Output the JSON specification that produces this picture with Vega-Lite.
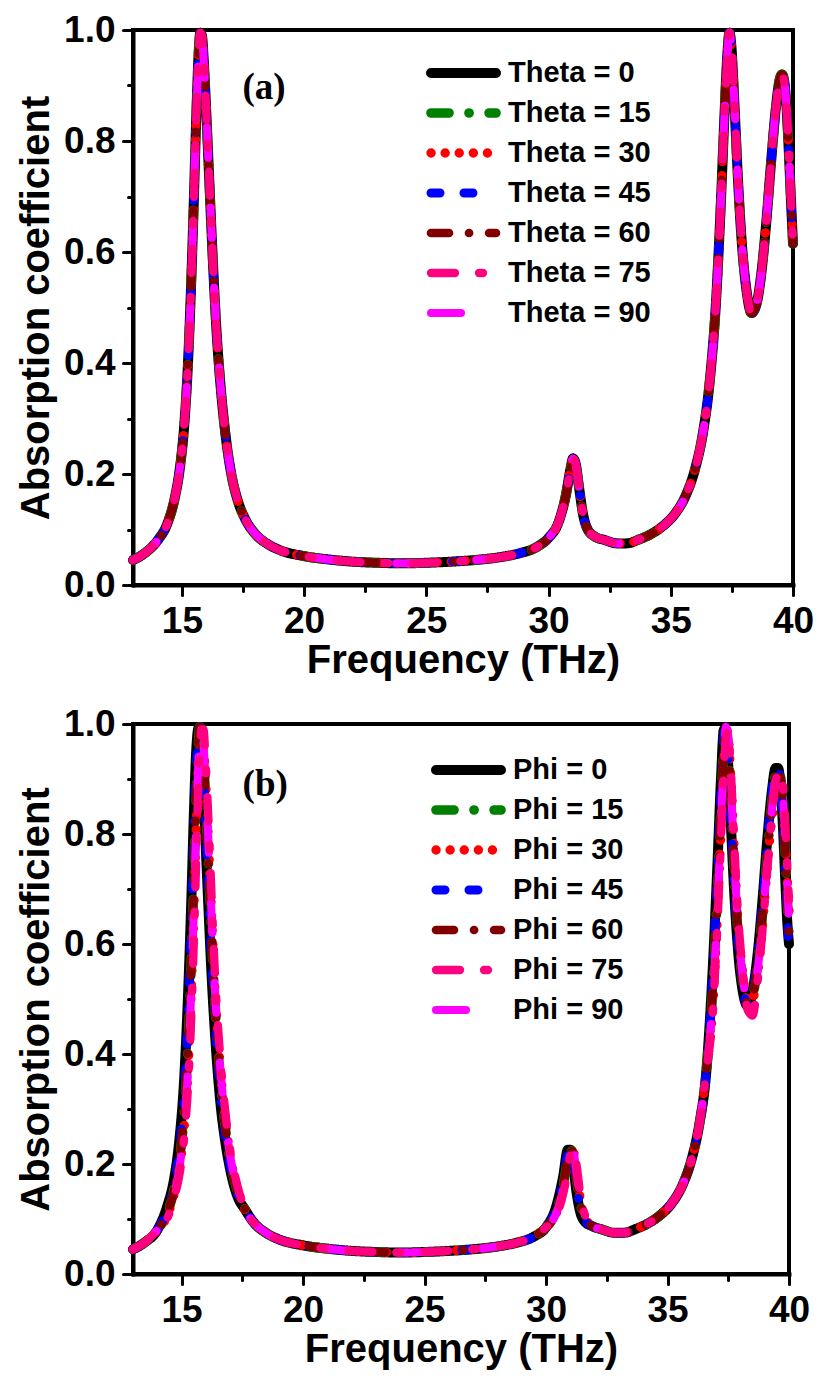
{
 "$schema": "https://vega.github.io/schema/vega-lite/v6.json",
 "background": "white",
 "padding": {"left": 14, "top": 9, "right": 0, "bottom": 0},
 "spacing": 21,
 "datasets": {
  "pa": [
   {"f":13,"s0":0.045,"s15":0.045,"s30":0.045,"s45":0.045,"s60":0.045,"s75":0.045,"s90":0.045},
   {"f":13.5,"s0":0.058,"s15":0.058,"s30":0.058,"s45":0.058,"s60":0.058,"s75":0.058,"s90":0.058},
   {"f":14,"s0":0.08,"s15":0.08,"s30":0.08,"s45":0.08,"s60":0.08,"s75":0.08,"s90":0.08},
   {"f":14.4,"s0":0.11,"s15":0.11,"s30":0.11,"s45":0.11,"s60":0.11,"s75":0.11,"s90":0.11},
   {"f":14.7,"s0":0.155,"s15":0.155,"s30":0.155,"s45":0.155,"s60":0.155,"s75":0.155,"s90":0.155},
   {"f":14.9,"s0":0.205,"s15":0.205,"s30":0.205,"s45":0.205,"s60":0.205,"s75":0.205,"s90":0.205},
   {"f":15.1,"s0":0.29,"s15":0.29,"s30":0.29,"s45":0.29,"s60":0.29,"s75":0.29,"s90":0.29},
   {"f":15.25,"s0":0.4,"s15":0.4,"s30":0.4,"s45":0.4,"s60":0.4,"s75":0.4,"s90":0.4},
   {"f":15.4,"s0":0.57,"s15":0.57,"s30":0.57,"s45":0.57,"s60":0.57,"s75":0.57,"s90":0.57},
   {"f":15.5,"s0":0.71,"s15":0.71,"s30":0.71,"s45":0.71,"s60":0.71,"s75":0.71,"s90":0.71},
   {"f":15.6,"s0":0.86,"s15":0.86,"s30":0.86,"s45":0.86,"s60":0.86,"s75":0.86,"s90":0.86},
   {"f":15.7,"s0":0.97,"s15":0.97,"s30":0.97,"s45":0.97,"s60":0.97,"s75":0.97,"s90":0.97},
   {"f":15.75,"s0":0.995,"s15":0.995,"s30":0.995,"s45":0.995,"s60":0.995,"s75":0.995,"s90":0.995},
   {"f":15.82,"s0":0.99,"s15":0.99,"s30":0.99,"s45":0.99,"s60":0.99,"s75":0.99,"s90":0.99},
   {"f":15.9,"s0":0.94,"s15":0.94,"s30":0.94,"s45":0.94,"s60":0.94,"s75":0.94,"s90":0.94},
   {"f":16,"s0":0.85,"s15":0.85,"s30":0.85,"s45":0.85,"s60":0.85,"s75":0.85,"s90":0.85},
   {"f":16.1,"s0":0.75,"s15":0.75,"s30":0.75,"s45":0.75,"s60":0.75,"s75":0.75,"s90":0.75},
   {"f":16.25,"s0":0.6,"s15":0.6,"s30":0.6,"s45":0.6,"s60":0.6,"s75":0.6,"s90":0.6},
   {"f":16.4,"s0":0.47,"s15":0.47,"s30":0.47,"s45":0.47,"s60":0.47,"s75":0.47,"s90":0.47},
   {"f":16.6,"s0":0.35,"s15":0.35,"s30":0.35,"s45":0.35,"s60":0.35,"s75":0.35,"s90":0.35},
   {"f":16.8,"s0":0.265,"s15":0.265,"s30":0.265,"s45":0.265,"s60":0.265,"s75":0.265,"s90":0.265},
   {"f":17,"s0":0.205,"s15":0.205,"s30":0.205,"s45":0.205,"s60":0.205,"s75":0.205,"s90":0.205},
   {"f":17.3,"s0":0.15,"s15":0.15,"s30":0.15,"s45":0.15,"s60":0.15,"s75":0.15,"s90":0.15},
   {"f":17.6,"s0":0.118,"s15":0.118,"s30":0.118,"s45":0.118,"s60":0.118,"s75":0.118,"s90":0.118},
   {"f":18,"s0":0.092,"s15":0.092,"s30":0.092,"s45":0.092,"s60":0.092,"s75":0.092,"s90":0.092},
   {"f":18.5,"s0":0.074,"s15":0.074,"s30":0.074,"s45":0.074,"s60":0.074,"s75":0.074,"s90":0.074},
   {"f":19,"s0":0.063,"s15":0.063,"s30":0.063,"s45":0.063,"s60":0.063,"s75":0.063,"s90":0.063},
   {"f":20,"s0":0.052,"s15":0.052,"s30":0.052,"s45":0.052,"s60":0.052,"s75":0.052,"s90":0.052},
   {"f":21,"s0":0.046,"s15":0.046,"s30":0.046,"s45":0.046,"s60":0.046,"s75":0.046,"s90":0.046},
   {"f":22,"s0":0.042,"s15":0.042,"s30":0.042,"s45":0.042,"s60":0.042,"s75":0.042,"s90":0.042},
   {"f":23,"s0":0.04,"s15":0.04,"s30":0.04,"s45":0.04,"s60":0.04,"s75":0.04,"s90":0.04},
   {"f":24,"s0":0.039,"s15":0.039,"s30":0.039,"s45":0.039,"s60":0.039,"s75":0.039,"s90":0.039},
   {"f":25,"s0":0.04,"s15":0.04,"s30":0.04,"s45":0.04,"s60":0.04,"s75":0.04,"s90":0.04},
   {"f":26,"s0":0.042,"s15":0.042,"s30":0.042,"s45":0.042,"s60":0.042,"s75":0.042,"s90":0.042},
   {"f":27,"s0":0.045,"s15":0.045,"s30":0.045,"s45":0.045,"s60":0.045,"s75":0.045,"s90":0.045},
   {"f":28,"s0":0.05,"s15":0.05,"s30":0.05,"s45":0.05,"s60":0.05,"s75":0.05,"s90":0.05},
   {"f":28.8,"s0":0.057,"s15":0.057,"s30":0.057,"s45":0.057,"s60":0.057,"s75":0.057,"s90":0.057},
   {"f":29.5,"s0":0.068,"s15":0.068,"s30":0.068,"s45":0.068,"s60":0.068,"s75":0.068,"s90":0.068},
   {"f":30,"s0":0.085,"s15":0.085,"s30":0.085,"s45":0.085,"s60":0.085,"s75":0.085,"s90":0.085},
   {"f":30.4,"s0":0.112,"s15":0.112,"s30":0.112,"s45":0.112,"s60":0.112,"s75":0.112,"s90":0.112},
   {"f":30.7,"s0":0.16,"s15":0.16,"s30":0.16,"s45":0.16,"s60":0.16,"s75":0.16,"s90":0.16},
   {"f":30.9,"s0":0.21,"s15":0.21,"s30":0.21,"s45":0.21,"s60":0.21,"s75":0.21,"s90":0.21},
   {"f":31,"s0":0.228,"s15":0.228,"s30":0.228,"s45":0.228,"s60":0.228,"s75":0.228,"s90":0.228},
   {"f":31.1,"s0":0.22,"s15":0.22,"s30":0.22,"s45":0.22,"s60":0.22,"s75":0.22,"s90":0.22},
   {"f":31.25,"s0":0.175,"s15":0.175,"s30":0.175,"s45":0.175,"s60":0.175,"s75":0.175,"s90":0.175},
   {"f":31.4,"s0":0.13,"s15":0.13,"s30":0.13,"s45":0.13,"s60":0.13,"s75":0.13,"s90":0.13},
   {"f":31.6,"s0":0.1,"s15":0.1,"s30":0.1,"s45":0.1,"s60":0.1,"s75":0.1,"s90":0.1},
   {"f":31.9,"s0":0.087,"s15":0.087,"s30":0.087,"s45":0.087,"s60":0.087,"s75":0.087,"s90":0.087},
   {"f":32.3,"s0":0.081,"s15":0.081,"s30":0.081,"s45":0.081,"s60":0.081,"s75":0.081,"s90":0.081},
   {"f":32.8,"s0":0.075,"s15":0.075,"s30":0.075,"s45":0.075,"s60":0.075,"s75":0.075,"s90":0.075},
   {"f":33.2,"s0":0.075,"s15":0.075,"s30":0.075,"s45":0.075,"s60":0.075,"s75":0.075,"s90":0.075},
   {"f":33.7,"s0":0.082,"s15":0.082,"s30":0.082,"s45":0.082,"s60":0.082,"s75":0.082,"s90":0.082},
   {"f":34.2,"s0":0.092,"s15":0.092,"s30":0.092,"s45":0.092,"s60":0.092,"s75":0.092,"s90":0.092},
   {"f":34.7,"s0":0.107,"s15":0.107,"s30":0.107,"s45":0.107,"s60":0.107,"s75":0.107,"s90":0.107},
   {"f":35.2,"s0":0.13,"s15":0.13,"s30":0.13,"s45":0.13,"s60":0.13,"s75":0.13,"s90":0.13},
   {"f":35.6,"s0":0.16,"s15":0.16,"s30":0.16,"s45":0.16,"s60":0.16,"s75":0.16,"s90":0.16},
   {"f":36,"s0":0.21,"s15":0.21,"s30":0.21,"s45":0.21,"s60":0.21,"s75":0.21,"s90":0.21},
   {"f":36.3,"s0":0.27,"s15":0.27,"s30":0.27,"s45":0.27,"s60":0.27,"s75":0.27,"s90":0.27},
   {"f":36.6,"s0":0.37,"s15":0.37,"s30":0.37,"s45":0.37,"s60":0.37,"s75":0.37,"s90":0.37},
   {"f":36.85,"s0":0.51,"s15":0.51,"s30":0.51,"s45":0.51,"s60":0.51,"s75":0.51,"s90":0.51},
   {"f":37.05,"s0":0.69,"s15":0.69,"s30":0.69,"s45":0.69,"s60":0.69,"s75":0.69,"s90":0.69},
   {"f":37.2,"s0":0.85,"s15":0.85,"s30":0.85,"s45":0.85,"s60":0.85,"s75":0.85,"s90":0.85},
   {"f":37.32,"s0":0.96,"s15":0.96,"s30":0.96,"s45":0.96,"s60":0.96,"s75":0.96,"s90":0.96},
   {"f":37.4,"s0":0.995,"s15":0.995,"s30":0.995,"s45":0.995,"s60":0.995,"s75":0.995,"s90":0.995},
   {"f":37.48,"s0":0.97,"s15":0.97,"s30":0.97,"s45":0.97,"s60":0.97,"s75":0.97,"s90":0.97},
   {"f":37.6,"s0":0.87,"s15":0.87,"s30":0.87,"s45":0.87,"s60":0.87,"s75":0.87,"s90":0.87},
   {"f":37.75,"s0":0.73,"s15":0.73,"s30":0.73,"s45":0.73,"s60":0.73,"s75":0.73,"s90":0.73},
   {"f":37.9,"s0":0.62,"s15":0.62,"s30":0.62,"s45":0.62,"s60":0.62,"s75":0.62,"s90":0.62},
   {"f":38.1,"s0":0.53,"s15":0.53,"s30":0.53,"s45":0.53,"s60":0.53,"s75":0.53,"s90":0.53},
   {"f":38.3,"s0":0.49,"s15":0.49,"s30":0.49,"s45":0.49,"s60":0.49,"s75":0.49,"s90":0.49},
   {"f":38.5,"s0":0.505,"s15":0.505,"s30":0.505,"s45":0.505,"s60":0.505,"s75":0.505,"s90":0.505},
   {"f":38.7,"s0":0.56,"s15":0.56,"s30":0.56,"s45":0.56,"s60":0.56,"s75":0.56,"s90":0.56},
   {"f":38.9,"s0":0.65,"s15":0.65,"s30":0.65,"s45":0.65,"s60":0.65,"s75":0.65,"s90":0.65},
   {"f":39.1,"s0":0.76,"s15":0.76,"s30":0.76,"s45":0.76,"s60":0.76,"s75":0.76,"s90":0.76},
   {"f":39.3,"s0":0.86,"s15":0.86,"s30":0.86,"s45":0.86,"s60":0.86,"s75":0.86,"s90":0.86},
   {"f":39.45,"s0":0.91,"s15":0.91,"s30":0.91,"s45":0.91,"s60":0.91,"s75":0.91,"s90":0.91},
   {"f":39.55,"s0":0.92,"s15":0.92,"s30":0.92,"s45":0.92,"s60":0.92,"s75":0.92,"s90":0.92},
   {"f":39.65,"s0":0.905,"s15":0.905,"s30":0.905,"s45":0.905,"s60":0.905,"s75":0.905,"s90":0.905},
   {"f":39.75,"s0":0.85,"s15":0.85,"s30":0.85,"s45":0.85,"s60":0.85,"s75":0.85,"s90":0.85},
   {"f":39.85,"s0":0.76,"s15":0.76,"s30":0.76,"s45":0.76,"s60":0.76,"s75":0.76,"s90":0.76},
   {"f":39.93,"s0":0.68,"s15":0.68,"s30":0.68,"s45":0.68,"s60":0.68,"s75":0.68,"s90":0.68},
   {"f":40,"s0":0.615,"s15":0.615,"s30":0.615,"s45":0.615,"s60":0.615,"s75":0.615,"s90":0.615}
  ],
  "pb": [
   {"f":13,"s0":0.045,"s15":0.045,"s30":0.045,"s45":0.045,"s60":0.045,"s75":0.045,"s90":0.045},
   {"f":13.5,"s0":0.058,"s15":0.058,"s30":0.058,"s45":0.058,"s60":0.058,"s75":0.058,"s90":0.058},
   {"f":14,"s0":0.08,"s15":0.08,"s30":0.08,"s45":0.08,"s60":0.08,"s75":0.08,"s90":0.08},
   {"f":14.4,"s0":0.122,"s15":0.11,"s30":0.105,"s45":0.116,"s60":0.11,"s75":0.1,"s90":0.105},
   {"f":14.7,"s0":0.175,"s15":0.155,"s30":0.147,"s45":0.165,"s60":0.155,"s75":0.14,"s90":0.147},
   {"f":14.9,"s0":0.24,"s15":0.205,"s30":0.19,"s45":0.222,"s60":0.205,"s75":0.178,"s90":0.19},
   {"f":15.1,"s0":0.35,"s15":0.29,"s30":0.265,"s45":0.32,"s60":0.29,"s75":0.245,"s90":0.265},
   {"f":15.25,"s0":0.49,"s15":0.4,"s30":0.36,"s45":0.445,"s60":0.4,"s75":0.33,"s90":0.36},
   {"f":15.4,"s0":0.68,"s15":0.57,"s30":0.52,"s45":0.625,"s60":0.57,"s75":0.47,"s90":0.52},
   {"f":15.5,"s0":0.83,"s15":0.71,"s30":0.655,"s45":0.77,"s60":0.71,"s75":0.6,"s90":0.655},
   {"f":15.6,"s0":0.95,"s15":0.86,"s30":0.81,"s45":0.91,"s60":0.86,"s75":0.75,"s90":0.81},
   {"f":15.7,"s0":0.993,"s15":0.97,"s30":0.94,"s45":0.985,"s60":0.97,"s75":0.9,"s90":0.94},
   {"f":15.75,"s0":0.985,"s15":0.995,"s30":0.975,"s45":0.995,"s60":0.995,"s75":0.95,"s90":0.975},
   {"f":15.82,"s0":0.94,"s15":0.99,"s30":0.998,"s45":0.97,"s60":0.99,"s75":0.99,"s90":0.998},
   {"f":15.9,"s0":0.87,"s15":0.94,"s30":0.965,"s45":0.905,"s60":0.94,"s75":0.99,"s90":0.965},
   {"f":16,"s0":0.77,"s15":0.85,"s30":0.885,"s45":0.81,"s60":0.85,"s75":0.92,"s90":0.885},
   {"f":16.1,"s0":0.67,"s15":0.75,"s30":0.79,"s45":0.71,"s60":0.75,"s75":0.83,"s90":0.79},
   {"f":16.25,"s0":0.53,"s15":0.6,"s30":0.635,"s45":0.565,"s60":0.6,"s75":0.67,"s90":0.635},
   {"f":16.4,"s0":0.42,"s15":0.47,"s30":0.495,"s45":0.445,"s60":0.47,"s75":0.52,"s90":0.495},
   {"f":16.6,"s0":0.31,"s15":0.35,"s30":0.37,"s45":0.33,"s60":0.35,"s75":0.39,"s90":0.37},
   {"f":16.8,"s0":0.24,"s15":0.265,"s30":0.28,"s45":0.25,"s60":0.265,"s75":0.295,"s90":0.28},
   {"f":17,"s0":0.19,"s15":0.205,"s30":0.215,"s45":0.197,"s60":0.205,"s75":0.225,"s90":0.215},
   {"f":17.3,"s0":0.141,"s15":0.15,"s30":0.155,"s45":0.145,"s60":0.15,"s75":0.16,"s90":0.155},
   {"f":17.6,"s0":0.118,"s15":0.118,"s30":0.118,"s45":0.118,"s60":0.118,"s75":0.118,"s90":0.118},
   {"f":18,"s0":0.092,"s15":0.092,"s30":0.092,"s45":0.092,"s60":0.092,"s75":0.092,"s90":0.092},
   {"f":18.5,"s0":0.074,"s15":0.074,"s30":0.074,"s45":0.074,"s60":0.074,"s75":0.074,"s90":0.074},
   {"f":19,"s0":0.063,"s15":0.063,"s30":0.063,"s45":0.063,"s60":0.063,"s75":0.063,"s90":0.063},
   {"f":20,"s0":0.052,"s15":0.052,"s30":0.052,"s45":0.052,"s60":0.052,"s75":0.052,"s90":0.052},
   {"f":21,"s0":0.046,"s15":0.046,"s30":0.046,"s45":0.046,"s60":0.046,"s75":0.046,"s90":0.046},
   {"f":22,"s0":0.042,"s15":0.042,"s30":0.042,"s45":0.042,"s60":0.042,"s75":0.042,"s90":0.042},
   {"f":23,"s0":0.04,"s15":0.04,"s30":0.04,"s45":0.04,"s60":0.04,"s75":0.04,"s90":0.04},
   {"f":24,"s0":0.039,"s15":0.039,"s30":0.039,"s45":0.039,"s60":0.039,"s75":0.039,"s90":0.039},
   {"f":25,"s0":0.04,"s15":0.04,"s30":0.04,"s45":0.04,"s60":0.04,"s75":0.04,"s90":0.04},
   {"f":26,"s0":0.042,"s15":0.042,"s30":0.042,"s45":0.042,"s60":0.042,"s75":0.042,"s90":0.042},
   {"f":27,"s0":0.045,"s15":0.045,"s30":0.045,"s45":0.045,"s60":0.045,"s75":0.045,"s90":0.045},
   {"f":28,"s0":0.05,"s15":0.05,"s30":0.05,"s45":0.05,"s60":0.05,"s75":0.05,"s90":0.05},
   {"f":28.8,"s0":0.057,"s15":0.057,"s30":0.057,"s45":0.057,"s60":0.057,"s75":0.057,"s90":0.057},
   {"f":29.5,"s0":0.068,"s15":0.068,"s30":0.068,"s45":0.068,"s60":0.068,"s75":0.068,"s90":0.068},
   {"f":30,"s0":0.085,"s15":0.085,"s30":0.085,"s45":0.085,"s60":0.085,"s75":0.085,"s90":0.085},
   {"f":30.4,"s0":0.12,"s15":0.112,"s30":0.108,"s45":0.116,"s60":0.112,"s75":0.104,"s90":0.108},
   {"f":30.7,"s0":0.176,"s15":0.16,"s30":0.152,"s45":0.168,"s60":0.16,"s75":0.145,"s90":0.152},
   {"f":30.9,"s0":0.226,"s15":0.21,"s30":0.2,"s45":0.219,"s60":0.21,"s75":0.19,"s90":0.2},
   {"f":31,"s0":0.226,"s15":0.228,"s30":0.225,"s45":0.228,"s60":0.228,"s75":0.218,"s90":0.225},
   {"f":31.1,"s0":0.205,"s15":0.22,"s30":0.226,"s45":0.212,"s60":0.22,"s75":0.228,"s90":0.226},
   {"f":31.25,"s0":0.15,"s15":0.175,"s30":0.187,"s45":0.163,"s60":0.175,"s75":0.2,"s90":0.187},
   {"f":31.4,"s0":0.114,"s15":0.13,"s30":0.138,"s45":0.122,"s60":0.13,"s75":0.147,"s90":0.138},
   {"f":31.6,"s0":0.095,"s15":0.1,"s30":0.103,"s45":0.097,"s60":0.1,"s75":0.107,"s90":0.103},
   {"f":31.9,"s0":0.087,"s15":0.087,"s30":0.087,"s45":0.087,"s60":0.087,"s75":0.087,"s90":0.087},
   {"f":32.3,"s0":0.081,"s15":0.081,"s30":0.081,"s45":0.081,"s60":0.081,"s75":0.081,"s90":0.081},
   {"f":32.8,"s0":0.075,"s15":0.075,"s30":0.075,"s45":0.075,"s60":0.075,"s75":0.075,"s90":0.075},
   {"f":33.2,"s0":0.075,"s15":0.075,"s30":0.075,"s45":0.075,"s60":0.075,"s75":0.075,"s90":0.075},
   {"f":33.7,"s0":0.082,"s15":0.082,"s30":0.082,"s45":0.082,"s60":0.082,"s75":0.082,"s90":0.082},
   {"f":34.2,"s0":0.092,"s15":0.092,"s30":0.092,"s45":0.092,"s60":0.092,"s75":0.092,"s90":0.092},
   {"f":34.7,"s0":0.107,"s15":0.107,"s30":0.107,"s45":0.107,"s60":0.107,"s75":0.107,"s90":0.107},
   {"f":35.2,"s0":0.13,"s15":0.13,"s30":0.13,"s45":0.13,"s60":0.13,"s75":0.13,"s90":0.13},
   {"f":35.6,"s0":0.16,"s15":0.16,"s30":0.16,"s45":0.16,"s60":0.16,"s75":0.16,"s90":0.16},
   {"f":36,"s0":0.21,"s15":0.21,"s30":0.21,"s45":0.21,"s60":0.21,"s75":0.21,"s90":0.21},
   {"f":36.3,"s0":0.27,"s15":0.27,"s30":0.27,"s45":0.27,"s60":0.27,"s75":0.27,"s90":0.27},
   {"f":36.6,"s0":0.37,"s15":0.37,"s30":0.37,"s45":0.37,"s60":0.37,"s75":0.37,"s90":0.37},
   {"f":36.85,"s0":0.546,"s15":0.51,"s30":0.48,"s45":0.53,"s60":0.51,"s75":0.467,"s90":0.49},
   {"f":37.05,"s0":0.74,"s15":0.69,"s30":0.65,"s45":0.72,"s60":0.69,"s75":0.632,"s90":0.66},
   {"f":37.2,"s0":0.9,"s15":0.85,"s30":0.81,"s45":0.88,"s60":0.85,"s75":0.79,"s90":0.82},
   {"f":37.32,"s0":0.99,"s15":0.96,"s30":0.93,"s45":0.98,"s60":0.96,"s75":0.916,"s90":0.94},
   {"f":37.4,"s0":0.99,"s15":0.995,"s30":0.99,"s45":0.99,"s60":0.995,"s75":0.975,"s90":0.995},
   {"f":37.48,"s0":0.94,"s15":0.97,"s30":0.985,"s45":0.95,"s60":0.97,"s75":0.99,"s90":0.985},
   {"f":37.6,"s0":0.825,"s15":0.87,"s30":0.905,"s45":0.845,"s60":0.87,"s75":0.92,"s90":0.895},
   {"f":37.75,"s0":0.69,"s15":0.73,"s30":0.765,"s45":0.705,"s60":0.73,"s75":0.78,"s90":0.755},
   {"f":37.9,"s0":0.59,"s15":0.62,"s30":0.64,"s45":0.605,"s60":0.62,"s75":0.654,"s90":0.635},
   {"f":38.1,"s0":0.513,"s15":0.53,"s30":0.545,"s45":0.52,"s60":0.53,"s75":0.55,"s90":0.54},
   {"f":38.3,"s0":0.487,"s15":0.49,"s30":0.495,"s45":0.488,"s60":0.49,"s75":0.48,"s90":0.492},
   {"f":38.5,"s0":0.514,"s15":0.505,"s30":0.5,"s45":0.51,"s60":0.505,"s75":0.47,"s90":0.5},
   {"f":38.7,"s0":0.578,"s15":0.56,"s30":0.545,"s45":0.57,"s60":0.56,"s75":0.53,"s90":0.55},
   {"f":38.9,"s0":0.675,"s15":0.65,"s30":0.63,"s45":0.665,"s60":0.65,"s75":0.62,"s90":0.635},
   {"f":39.1,"s0":0.787,"s15":0.76,"s30":0.74,"s45":0.775,"s60":0.76,"s75":0.73,"s90":0.745},
   {"f":39.3,"s0":0.88,"s15":0.86,"s30":0.83,"s45":0.873,"s60":0.86,"s75":0.835,"s90":0.847},
   {"f":39.45,"s0":0.92,"s15":0.91,"s30":0.87,"s45":0.917,"s60":0.91,"s75":0.895,"s90":0.903},
   {"f":39.55,"s0":0.92,"s15":0.92,"s30":0.875,"s45":0.92,"s60":0.92,"s75":0.91,"s90":0.918},
   {"f":39.65,"s0":0.887,"s15":0.905,"s30":0.87,"s45":0.895,"s60":0.905,"s75":0.915,"s90":0.91},
   {"f":39.75,"s0":0.813,"s15":0.85,"s30":0.86,"s45":0.83,"s60":0.85,"s75":0.89,"s90":0.87},
   {"f":39.85,"s0":0.713,"s15":0.76,"s30":0.79,"s45":0.735,"s60":0.76,"s75":0.82,"s90":0.788},
   {"f":39.93,"s0":0.64,"s15":0.68,"s30":0.72,"s45":0.65,"s60":0.68,"s75":0.74,"s90":0.71},
   {"f":40,"s0":0.6,"s15":0.615,"s30":0.66,"s45":0.59,"s60":0.615,"s75":0.68,"s90":0.64}
  ]
 },
 "vconcat": [
  {
   "width": 660, "height": 555,
   "layer": [
    {
     "data": {"name": "pa"},
     "transform": [{"fold": ["s0","s15","s30","s45","s60","s90","s75"], "as": ["k","v"]}],
     "mark": {"type": "line", "interpolate": "monotone", "strokeCap": "round", "strokeJoin": "round"},
     "encoding": {
      "x": {"field": "f", "type": "quantitative", "scale": {"domain": [13, 40], "nice": false, "zero": false},
            "axis": {"title": "Frequency (THz)", "values": [15,17.5,20,22.5,25,27.5,30,32.5,35,37.5,40],
                     "labelExpr": "datum.value % 5 === 0 ? datum.label : ''",
                     "tickSize": {"condition": {"test": "datum.value % 5 === 0", "value": 10}, "value": 6}}},
      "y": {"field": "v", "type": "quantitative", "scale": {"domain": [0, 1], "nice": false},
            "axis": {"title": "Absorption coefficient", "values": [0,0.1,0.2,0.3,0.4,0.5,0.6,0.7,0.8,0.9,1.0], "format": ".1f",
                     "labelExpr": "round(datum.value*10) % 2 === 0 ? datum.label : ''",
                     "tickSize": {"condition": {"test": "round(datum.value*10) % 2 === 0", "value": 10}, "value": 5}}},
      "color": {"field": "k", "type": "nominal",
                "scale": {"domain": ["s0","s15","s30","s45","s60","s75","s90"], "range": ["#000000","#008000","#FF0000","#0000FF","#800000","#FF0080","#FF00FF"]},
                "legend": {"title": null, "orient": "none", "legendX": 293, "legendY": 28, "labelOffset": 7, "labelExpr": "'Theta = ' + slice(datum.label, 1)",
                           "encode": {"symbols": {"update": {"strokeCap": {"value": "round"}}}}}},
      "strokeDash": {"field": "k", "type": "nominal",
                "scale": {"domain": ["s0","s15","s30","s45","s60","s75","s90"], "range": [[1,0],[18,20,0.1,20],[0.1,14],[9,24,9,26,0.1,26],[18,20,0.1,20],[24,24,4,24],[30,50]]},
                "legend": {"title": null, "orient": "none", "legendX": 293, "legendY": 28, "labelOffset": 7, "labelExpr": "'Theta = ' + slice(datum.label, 1)",
                           "encode": {"symbols": {"update": {"strokeCap": {"value": "round"}}}}}},
      "strokeWidth": {"field": "k", "type": "nominal",
                "scale": {"domain": ["s0","s15","s30","s45","s60","s75","s90"], "range": [10,8,8,8,8,8,8]}, "legend": null}
     }
    },
    {
     "data": {"values": [{}]},
     "mark": {"type": "text", "text": "(a)", "font": "Liberation Serif", "fontWeight": "bold", "fontSize": 37, "color": "black", "align": "center", "baseline": "middle"},
     "encoding": {
      "x": {"datum": 18.36, "type": "quantitative",
            "axis": {"title": "Frequency (THz)", "values": [15,17.5,20,22.5,25,27.5,30,32.5,35,37.5,40],
                     "labelExpr": "datum.value % 5 === 0 ? datum.label : ''",
                     "tickSize": {"condition": {"test": "datum.value % 5 === 0", "value": 10}, "value": 6}}},
      "y": {"datum": 0.895, "type": "quantitative",
            "axis": {"title": "Absorption coefficient", "values": [0,0.1,0.2,0.3,0.4,0.5,0.6,0.7,0.8,0.9,1.0], "format": ".1f",
                     "labelExpr": "round(datum.value*10) % 2 === 0 ? datum.label : ''",
                     "tickSize": {"condition": {"test": "round(datum.value*10) % 2 === 0", "value": 10}, "value": 5}}}
     }
    }
   ]
  },
  {
   "width": 656, "height": 550,
   "layer": [
    {
     "data": {"name": "pb"},
     "transform": [{"fold": ["s0","s15","s30","s45","s60","s90","s75"], "as": ["k","v"]}],
     "mark": {"type": "line", "interpolate": "monotone", "strokeCap": "round", "strokeJoin": "round"},
     "encoding": {
      "x": {"field": "f", "type": "quantitative", "scale": {"domain": [13, 40], "nice": false, "zero": false},
            "axis": {"title": "Frequency (THz)", "values": [15,17.5,20,22.5,25,27.5,30,32.5,35,37.5,40],
                     "labelExpr": "datum.value % 5 === 0 ? datum.label : ''",
                     "tickSize": {"condition": {"test": "datum.value % 5 === 0", "value": 10}, "value": 6}}},
      "y": {"field": "v", "type": "quantitative", "scale": {"domain": [0, 1], "nice": false},
            "axis": {"title": "Absorption coefficient", "values": [0,0.1,0.2,0.3,0.4,0.5,0.6,0.7,0.8,0.9,1.0], "format": ".1f",
                     "labelExpr": "round(datum.value*10) % 2 === 0 ? datum.label : ''",
                     "tickSize": {"condition": {"test": "round(datum.value*10) % 2 === 0", "value": 10}, "value": 5}}},
      "color": {"field": "k", "type": "nominal",
                "scale": {"domain": ["s0","s15","s30","s45","s60","s75","s90"], "range": ["#000000","#008000","#FF0000","#0000FF","#800000","#FF0080","#FF00FF"]},
                "legend": {"title": null, "orient": "none", "legendX": 298, "legendY": 31, "labelOffset": 7, "labelExpr": "'Phi = ' + slice(datum.label, 1)",
                           "encode": {"symbols": {"update": {"strokeCap": {"value": "round"}}}}}},
      "strokeDash": {"field": "k", "type": "nominal",
                "scale": {"domain": ["s0","s15","s30","s45","s60","s75","s90"], "range": [[1,0],[18,20,0.1,20],[0.1,14],[9,24,9,26,0.1,26],[18,20,0.1,20],[24,24,4,24],[30,50]]},
                "legend": {"title": null, "orient": "none", "legendX": 298, "legendY": 31, "labelOffset": 7, "labelExpr": "'Phi = ' + slice(datum.label, 1)",
                           "encode": {"symbols": {"update": {"strokeCap": {"value": "round"}}}}}},
      "strokeWidth": {"field": "k", "type": "nominal",
                "scale": {"domain": ["s0","s15","s30","s45","s60","s75","s90"], "range": [10,8,8,8,8,8,8]}, "legend": null}
     }
    },
    {
     "data": {"values": [{}]},
     "mark": {"type": "text", "text": "(b)", "font": "Liberation Serif", "fontWeight": "bold", "fontSize": 37, "color": "black", "align": "center", "baseline": "middle"},
     "encoding": {
      "x": {"datum": 18.44, "type": "quantitative",
            "axis": {"title": "Frequency (THz)", "values": [15,17.5,20,22.5,25,27.5,30,32.5,35,37.5,40],
                     "labelExpr": "datum.value % 5 === 0 ? datum.label : ''",
                     "tickSize": {"condition": {"test": "datum.value % 5 === 0", "value": 10}, "value": 6}}},
      "y": {"datum": 0.89, "type": "quantitative",
            "axis": {"title": "Absorption coefficient", "values": [0,0.1,0.2,0.3,0.4,0.5,0.6,0.7,0.8,0.9,1.0], "format": ".1f",
                     "labelExpr": "round(datum.value*10) % 2 === 0 ? datum.label : ''",
                     "tickSize": {"condition": {"test": "round(datum.value*10) % 2 === 0", "value": 10}, "value": 5}}}
     }
    }
   ]
  }
 ],
 "resolve": {
  "scale": {"color": "independent", "strokeDash": "independent", "strokeWidth": "independent"},
  "legend": {"color": "independent", "strokeDash": "independent"}
 },
 "config": {
  "view": {"stroke": "black", "strokeWidth": 4},
  "axis": {
   "grid": false, "domainColor": "black", "domainWidth": 4, "domainCap": "square",
   "tickColor": "black", "tickWidth": 3, "tickCap": "round",
   "labelFont": "Liberation Sans", "labelFontWeight": "bold", "labelFontSize": 37, "labelColor": "black",
   "labelFlush": false, "labelOverlap": false,
   "titleFont": "Liberation Sans", "titleFontWeight": "bold", "titleFontSize": 40, "titleColor": "black"
  },
  "axisX": {"labelPadding": 8, "titlePadding": 1},
  "axisY": {"labelPadding": 8, "titlePadding": 7},
  "legend": {
   "symbolType": "stroke", "symbolSize": 4225, "symbolStrokeWidth": 9,
   "labelFont": "Liberation Sans", "labelFontWeight": "bold", "labelFontSize": 29, "labelColor": "black",
   "clipHeight": 30, "rowPadding": 10, "padding": 0, "offset": 0,
   "labelLimit": 400
  }
 }
}
